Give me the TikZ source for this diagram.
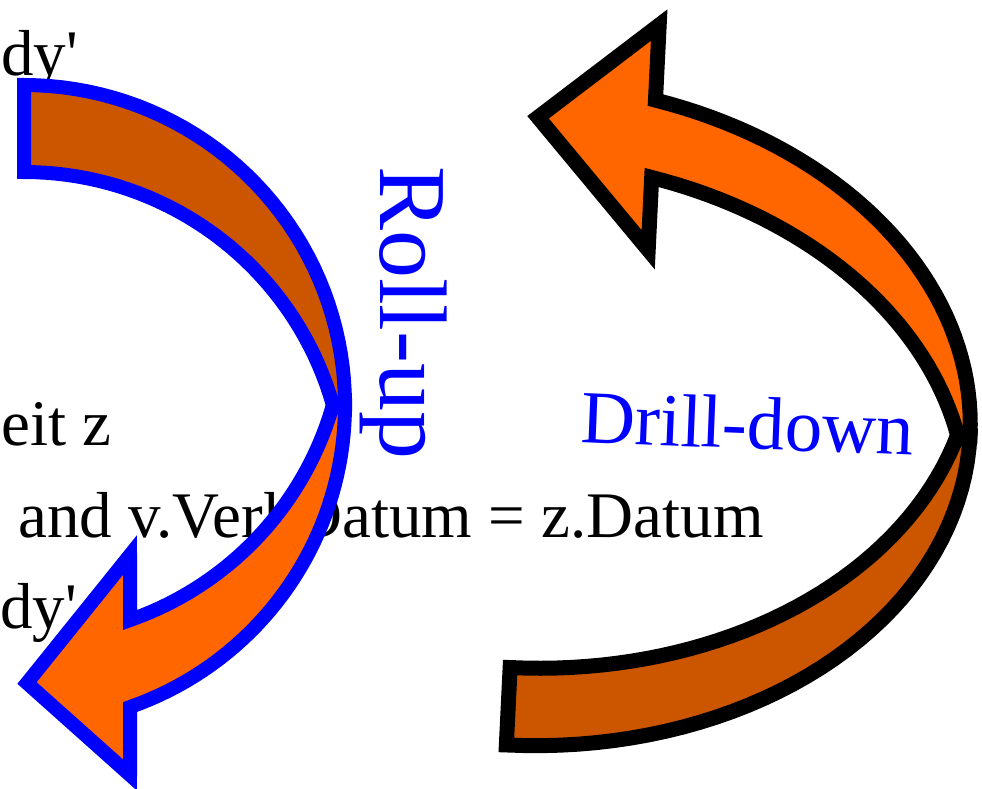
\documentclass[tikz,border=0pt]{standalone}
\usepackage{fontspec}
\newfontfamily\tnr{Liberation Serif}
\usepackage{tikz}
\definecolor{bandDark}{HTML}{CC5500}
\definecolor{bandLight}{HTML}{FF6600}

\begin{document}
\begin{tikzpicture}[x=1pt,y=-1pt,
  codeline/.style={anchor=base west,inner sep=0pt,font=\tnr\fontsize{65}{65}\selectfont},
  bluelabel/.style={anchor=base west,inner sep=0pt,text=blue,font=\tnr\fontsize{75}{75}\selectfont},
  arrowband/.style={line join=miter,miter limit=10}]
\useasboundingbox (0,0) rectangle (982,788);
\clip (0,0) rectangle (982,788);

% query text behind the arrows
\node[codeline] (dytop) at (1,75) {dy'};
\node[codeline] (zeit) at (1,445) {eit z};
\node[codeline] (join) at (18,537) {and v.VerkDatum = z.Datum};
\node[codeline] (dybot) at (0,628) {dy'};

% labels
\node[bluelabel,rotate=-90,font=\tnr\fontsize{96}{96}\selectfont] (rollup) at (380,166) {Roll-up};
\node[bluelabel,rotate=-2.3] (drilldown) at (580,442) {Drill-down};

% roll-up arrow (left)
\draw[arrowband,line width=14pt,draw=blue,fill=bandDark]
  plot[domain=-90:0,samples=40] ({24+321*cos(\x)},{405+320*sin(\x)})
  -- plot[domain=-15.8:-90,samples=40] ({24+321*cos(\x)},{492+320*sin(\x)}) -- cycle;
\draw[arrowband,line width=14pt,draw=blue,fill=bandLight]
  plot[domain=0:70.7,samples=40] ({24+321*cos(\x)},{405+320*sin(\x)})
  -- (130,775) -- (27,683) -- (130,555)
  -- plot[domain=70.7:15.8,samples=40] ({24+321*cos(\x)},{318+320*sin(\x)}) -- cycle;

% drill-down arrow (right)
\begin{scope}[rotate around={-2.8:(955,435)}]
\draw[arrowband,line width=15pt,draw=black,fill=bandDark]
  plot[domain=90:0,samples=40] ({522+448*cos(\x)},{435+331.5*sin(\x)})
  -- plot[domain=13.5:90,samples=40] ({522+448*cos(\x)},{357.5+331.5*sin(\x)}) -- cycle;
\draw[arrowband,line width=15pt,draw=black,fill=bandLight]
  plot[domain=0:-74.8,samples=40] ({522+448*cos(\x)},{435+331.5*sin(\x)})
  -- (639.5,40) -- (523,138) -- (639.5,265)
  -- plot[domain=-74.8:-13.5,samples=40] ({522+448*cos(\x)},{512.5+331.5*sin(\x)}) -- cycle;
\end{scope}
\end{tikzpicture}
\end{document}
